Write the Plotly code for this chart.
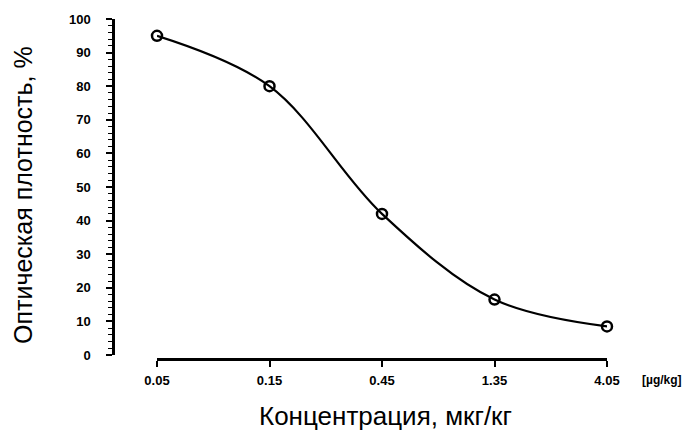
import plotly.graph_objects as go
import math

concentration = [0.05, 0.15, 0.45, 1.35, 4.05]
optical_density = [95, 80, 42, 16.5, 8.5]
x_tick_labels = ["0.05", "0.15", "0.45", "1.35", "4.05"]
y_tick_values = [0, 10, 20, 30, 40, 50, 60, 70, 80, 90, 100]

W, H = 693, 432

fig = go.Figure()
fig.add_trace(go.Scatter(
    x=concentration, y=optical_density,
    mode="lines+markers",
    line=dict(color="black", width=2.2, shape="spline", smoothing=1.0),
    marker=dict(symbol="circle-open", size=10, color="black", line=dict(width=2.5, color="black")),
    cliponaxis=False,
    showlegend=False,
))

tick_font = dict(family="Liberation Sans, Arial", size=13, color="black", weight="bold")

fig.update_layout(
    width=W, height=H,
    margin=dict(l=0, r=0, t=0, b=0, autoexpand=False),
    paper_bgcolor="white", plot_bgcolor="white",
    xaxis=dict(
        type="log",
        domain=[157 / W, 607 / W],
        range=[math.log10(concentration[0]), math.log10(concentration[-1])],
        anchor="free", position=(H - 359) / H,
        automargin=False,
        tickvals=concentration, ticktext=x_tick_labels,
        showline=True, linecolor="black", linewidth=2.5,
        ticks="outside", ticklen=6, tickwidth=2, tickcolor="black",
        showgrid=False, zeroline=False,
        tickfont=tick_font,
        ticklabelstandoff=3,
    ),
    yaxis=dict(
        domain=[(H - 355) / H, (H - 19) / H],
        range=[0, 100],
        anchor="free", position=113 / W,
        automargin=False,
        tickvals=y_tick_values,
        showline=True, linecolor="black", linewidth=2.5,
        ticks="outside", ticklen=6, tickwidth=2, tickcolor="black",
        minor=dict(ticks="outside", dtick=2, ticklen=4, tickwidth=1.2, tickcolor="black"),
        showgrid=False, zeroline=False,
        tickfont=tick_font,
        ticklabelstandoff=13,
    ),
    annotations=[
        dict(text="Оптическая плотность, %", textangle=-90, x=23 / W, y=(H - 195) / H,
             xref="paper", yref="paper", xanchor="center", yanchor="middle", showarrow=False,
             font=dict(family="Liberation Sans, Arial", size=25, color="black")),
        dict(text="Концентрация, мкг/кг", x=385 / W, y=(H - 416) / H,
             xref="paper", yref="paper", xanchor="center", yanchor="middle", showarrow=False,
             font=dict(family="Liberation Sans, Arial", size=26, color="black")),
        dict(text="[µg/kg]", x=662 / W, y=(H - 380) / H,
             xref="paper", yref="paper", xanchor="center", yanchor="middle", showarrow=False,
             font=dict(family="Liberation Sans, Arial", size=12, color="black", weight="bold")),
    ],
)

fig.write_html("out.html", config={"displayModeBar": False},
               post_script="document.body.style.margin='0';")
